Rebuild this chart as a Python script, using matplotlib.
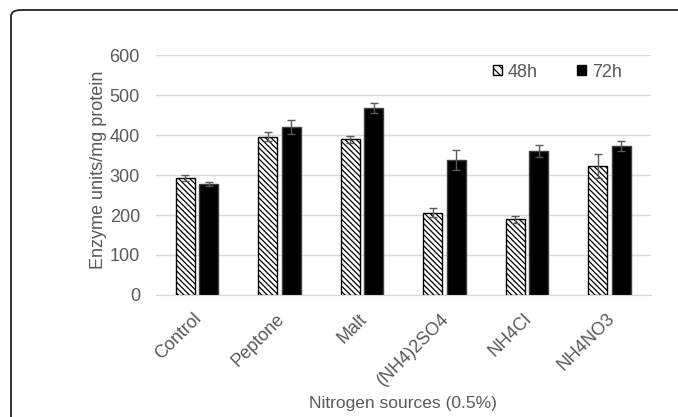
import matplotlib.pyplot as plt
import numpy as np
import matplotlib.transforms as mtransforms
from matplotlib.patches import FancyBboxPatch, Patch

# data
sources = ['Control', 'Peptone', 'Malt', '(NH4)2SO4', 'NH4Cl', 'NH4NO3']
h48 = [292, 396, 389, 206, 189, 322]
h48_err = [7, 12, 8, 11, 8, 30]
h72 = [277, 420, 468, 337, 361, 373]
h72_err = [5, 18, 13, 25, 15, 12]

grey = '#595959'
plt.rcParams['font.family'] = ['Liberation Sans', 'DejaVu Sans']
plt.rcParams['hatch.linewidth'] = 0.9

fig = plt.figure(figsize=(6.78, 4.17), dpi=100)
ax = fig.add_axes([0.230, 0.2926, 0.730, 0.5754])

x = np.arange(len(sources))
w = 0.23
off = 0.142
hatch = '\\' * 6

ax.bar(x - off, h48, w, color='white', edgecolor='black', linewidth=1,
       hatch=hatch, zorder=3)
ax.bar(x + off, h72, w, color='black', edgecolor='#404040', linewidth=1, zorder=3)
ax.errorbar(x - off, h48, yerr=h48_err, fmt='none', ecolor=grey, elinewidth=1,
            capsize=3, capthick=1, zorder=4)
ax.errorbar(x + off, h72, yerr=h72_err, fmt='none', ecolor=grey, elinewidth=1,
            capsize=3, capthick=1, zorder=4)

ax.set_xlim(-0.5, len(sources) - 0.5)
ax.set_ylim(0, 600)
ax.set_yticks(range(0, 601, 100))
ax.grid(axis='y', color='#d9d9d9', linewidth=1, zorder=0)
for s in ['top', 'right', 'left']:
    ax.spines[s].set_visible(False)
ax.spines['bottom'].set_color('#d9d9d9')
ax.tick_params(length=0, labelsize=13, labelcolor=grey)
ax.tick_params(axis='y', pad=11.5)
ax.tick_params(axis='x', pad=11)
ax.set_xticks(x)
ax.set_xticklabels(sources, rotation=45, ha='right', rotation_mode='anchor')
shift = mtransforms.ScaledTranslation(-4 / 100, 0, fig.dpi_scale_trans)
for lbl in ax.get_xticklabels():
    lbl.set_transform(lbl.get_transform() + shift)

ax.set_ylabel('Enzyme units/mg protein', fontsize=13, color=grey)
ax.yaxis.set_label_coords(-0.099, 0.52)
ax.set_xlabel('Nitrogen sources (0.5%)', fontsize=12.5, color=grey)
ax.xaxis.set_label_coords(0.5, -0.42)

handles = [Patch(facecolor='white', edgecolor='black', hatch='\\\\\\\\', label='48h'),
           Patch(facecolor='black', edgecolor='black', label='72h')]
ax.legend(handles=handles, loc='center', bbox_to_anchor=(0.811, 0.929), ncol=2,
          frameon=False, fontsize=13, labelcolor=grey, handlelength=0.5,
          handleheight=0.5, handletextpad=0.3, columnspacing=2.2, borderpad=0)

# rounded frame, cut off at right and bottom
frame = FancyBboxPatch((11 / 678, -0.2), 1.2, 1.2 - 10 / 417,
                       boxstyle='round,pad=0,rounding_size=0.015',
                       transform=fig.transFigure, fill=False,
                       edgecolor='#222222', linewidth=1.3)
fig.patches.append(frame)

plt.savefig('out.png', dpi=100)
